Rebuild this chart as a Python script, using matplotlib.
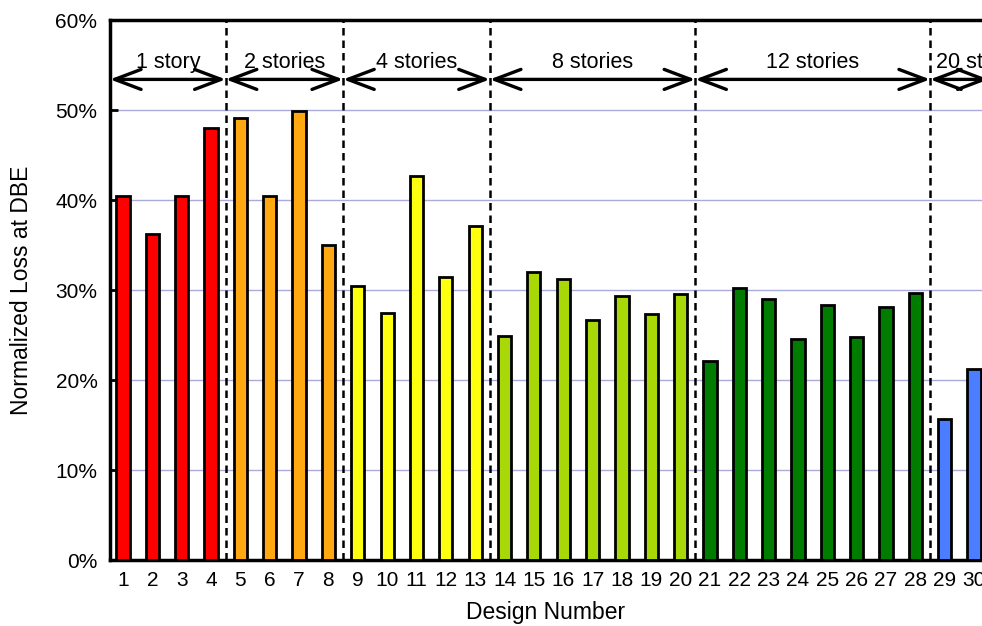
import numpy as np
import matplotlib
matplotlib.use("Agg")
import matplotlib.pyplot as plt

plt.rcParams['font.family'] = ['Liberation Sans', 'DejaVu Sans']

# normalized loss at DBE for each design (percent)
designs = list(range(1, 31))
loss = [40.4, 36.2, 40.4, 48.0, 49.1, 40.5, 49.9, 35.0,
        30.4, 27.4, 42.7, 31.4, 37.1,
        24.9, 32.0, 31.2, 26.7, 29.3, 27.3, 29.6,
        22.1, 30.2, 29.0, 24.6, 28.3, 24.8, 28.1, 29.7,
        15.7, 21.2]

# building height groups: label, first design, last design
groups = ["1 story", "2 stories", "4 stories", "8 stories", "12 stories", "20 stories"]
group_first = [1, 5, 9, 14, 21, 29]
group_last = [4, 8, 13, 20, 28, 30]
group_colors = ["#ff0000", "#ffa812", "#ffff10", "#a8d808", "#007c00", "#4a7dff"]

fig = plt.figure(figsize=(9.82, 6.26), dpi=100)
ax = fig.add_axes([110 / 982, 1 - 560 / 626, 1 - 110 / 982, 540 / 626])

bar_colors = []
for d in designs:
    for g, (a, b) in enumerate(zip(group_first, group_last)):
        if a <= d <= b:
            bar_colors.append(group_colors[g])

ax.bar(designs, loss, width=0.45, color=bar_colors, edgecolor="black",
       linewidth=2, zorder=3)

# group separators
for b in group_last[:-1]:
    ax.axvline(b + 0.5, color="black", linestyle=(0, (3, 2)), linewidth=1.8, zorder=4)

xmin, xmax = 0.557, 30.27
ax.set_xlim(xmin, xmax)
ax.set_ylim(0, 60)

# group arrows and labels
arrow_y = 53.4
for i, name in enumerate(groups):
    left = xmin if i == 0 else group_first[i] - 0.5
    right = group_last[i] + 0.5 if i < len(groups) - 1 else 30.5
    ax.annotate("", xy=(right, arrow_y), xytext=(left, arrow_y),
                arrowprops=dict(arrowstyle="<->, head_length=0.95, head_width=0.36",
                                color="black", lw=2.4, shrinkA=0, shrinkB=0,
                                mutation_scale=20),
                annotation_clip=False, zorder=5)
    cx = (left + right) / 2 if i < len(groups) - 1 else 30.3
    ax.text(cx, 55.3, name, ha="center", va="center", fontsize=15.5, zorder=5)

ax.set_yticks(np.arange(0, 61, 10))
ax.set_yticklabels([f"{v}%" for v in range(0, 61, 10)], fontsize=15)
ax.set_xticks(designs)
ax.set_xticklabels([str(d) for d in designs], fontsize=15)
ax.tick_params(axis="y", direction="in", length=6, width=2, pad=9)
ax.tick_params(axis="x", length=0, pad=8)

for y in range(10, 60, 10):
    ax.axhline(y, color="#aaaadd", linewidth=1.0, zorder=1)

for s in ["left", "top", "bottom"]:
    ax.spines[s].set_linewidth(2.5)
ax.spines["right"].set_visible(False)

ax.set_xlabel("Design Number", fontsize=16.5, labelpad=8)
fig.text(22 / 982, 1 - 290 / 626, "Normalized Loss at DBE", rotation=90,
         ha="center", va="center", fontsize=16.5)

fig.savefig("out.png", dpi=100)
